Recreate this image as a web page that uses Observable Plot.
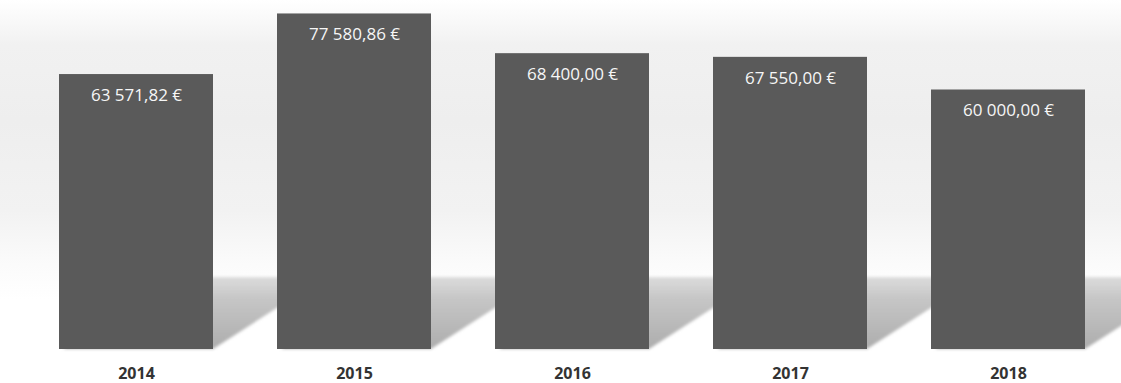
<!DOCTYPE html>
<html>
<head>
<meta charset="utf-8">
<script src="https://cdn.jsdelivr.net/npm/d3@7"></script>
<script src="https://cdn.jsdelivr.net/npm/@observablehq/plot@0.6"></script>
<style>
  html, body { margin: 0; padding: 0; background: #fff; }
  #chart {
    width: 1121px; height: 383px; overflow: hidden;
    background: linear-gradient(to bottom, #ffffff 0px, #f1f1f1 45px, #eeeeee 120px, #f2f2f2 210px, #fbfbfb 265px, #ffffff 300px);
  }
</style>
</head>
<body>
<div id="chart"></div>
<script>
const years = ["2014", "2015", "2016", "2017", "2018"];
const amounts = [63571.82, 77580.86, 68400.00, 67550.00, 60000.00];

const data = years.map((year, i) => ({year, amount: amounts[i]}));

const fr = d3.formatLocale({decimal: ",", thousands: " ", grouping: [3], currency: ["", " €"]});
const fmt = fr.format("$,.2f");

// shadow drawn through the plot's own scales
function shadows(index, scales) {
  const x = scales.x, y = scales.y;
  const bw = x.bandwidth();
  const base = y(0);
  const h = 72, dx = 112;
  const g = d3.create("svg:g");
  const defs = g.append("defs");
  const grad = defs.append("linearGradient").attr("id", "shgrad")
    .attr("x1", 0).attr("y1", 1).attr("x2", 0).attr("y2", 0);
  grad.append("stop").attr("offset", "0%").attr("stop-color", "#adadad");
  grad.append("stop").attr("offset", "70%").attr("stop-color", "#c6c6c6");
  grad.append("stop").attr("offset", "100%").attr("stop-color", "#dcdcdc");
  defs.append("filter").attr("id", "shblur").attr("x", "-10%").attr("y", "-10%").attr("width", "120%").attr("height", "120%")
    .append("feGaussianBlur").attr("stdDeviation", 1.6);
  for (const d of data) {
    const x0 = x(d.year) + 4, x1 = x(d.year) + bw;
    g.append("path")
      .attr("d", `M${x0},${base}L${x1},${base}L${x1 + dx},${base - h}L${x0 + dx},${base - h}Z`)
      .attr("fill", "url(#shgrad)")
      .attr("filter", "url(#shblur)");
  }
  return g.node();
}

const chart = Plot.plot({
  width: 1121,
  height: 383,
  marginLeft: 26,
  marginRight: 4,
  marginTop: 3,
  marginBottom: 34,
  style: {background: "transparent", fontFamily: "'Open Sans', sans-serif"},
  x: {domain: years, paddingInner: 0.294, paddingOuter: 0.147, label: null},
  y: {domain: [0, 80000], axis: null},
  marks: [
    shadows,
    Plot.barY(data, {x: "year", y: "amount", fill: "#5a5a5a"}),
    Plot.text(data, {
      x: "year", y: "amount", text: d => fmt(d.amount),
      dy: 21, fill: "#f6f6f6", fontSize: 17, fontFamily: "'Open Sans', sans-serif"
    }),
    Plot.axisX({tickSize: 0, tickPadding: 18, fontSize: 16, fontWeight: "bold", fill: "#333333", label: null})
  ]
});

document.getElementById("chart").appendChild(chart);
</script>
</body>
</html>
